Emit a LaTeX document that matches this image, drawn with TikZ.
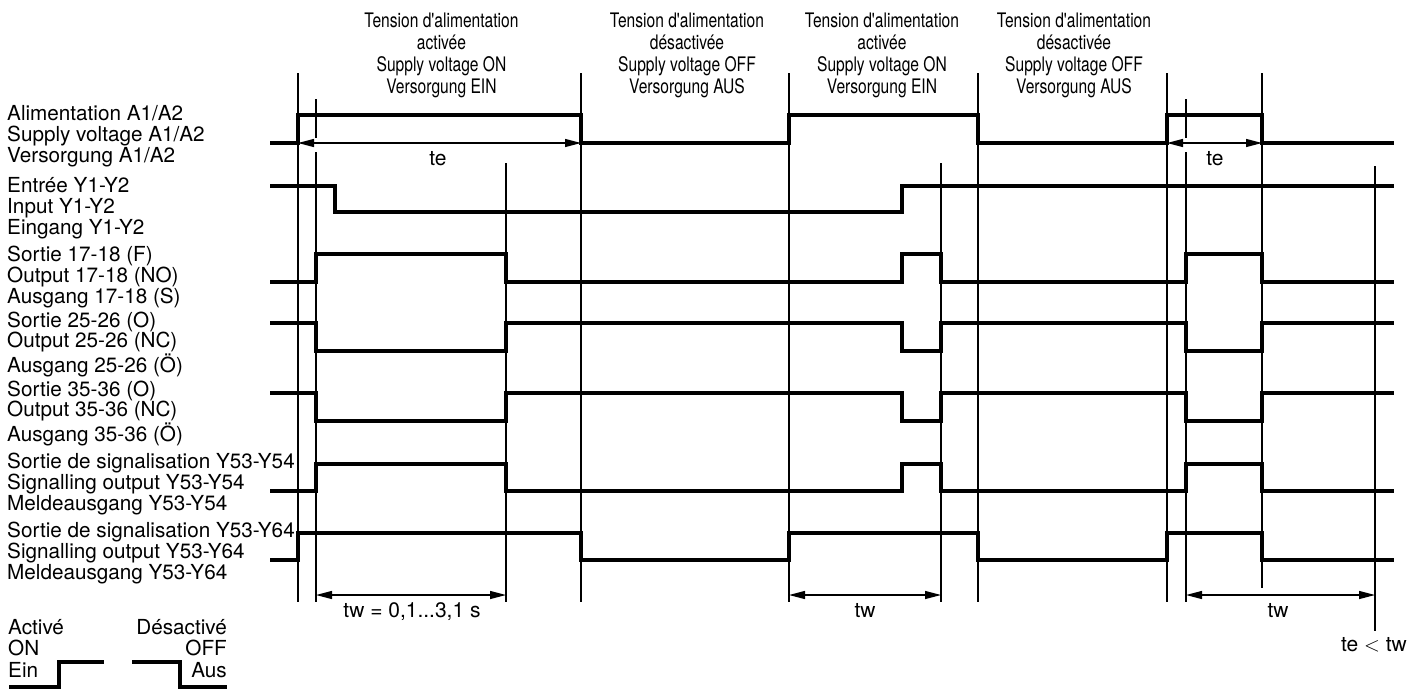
\documentclass[tikz,border=0pt]{standalone}
\usepackage{fontspec}
\setmainfont{TeX Gyre Heros}
\newfontfamily\narrowfont[FakeStretch=0.78]{TeX Gyre Heros}
\usetikzlibrary{arrows.meta,positioning}
\tikzset{
  sig/.style={line width=4pt, line join=miter},
  guide/.style={line width=2pt},
  dim/.style={{Triangle[length=16pt,width=8pt]}-{Triangle[length=16pt,width=8pt]}, line width=1.3pt},
  lbl/.style={font=\fontsize{20.7}{20.8}\selectfont, align=left, inner sep=0pt, anchor=base west},
  head/.style={font=\narrowfont\fontsize{20}{22}\selectfont, align=center, inner sep=0pt, anchor=base},
  dimlbl/.style={font=\fontsize{21}{22}\selectfont, inner sep=0pt, anchor=base}
}

\begin{document}
\begin{tikzpicture}[x=1pt, y=-1pt]
  \useasboundingbox (0,0) rectangle (1423,688);
  % headers (base = last line)
  \node[head] (h1) at (441.5,93) {Tension d'alimentation\\activée\\Supply voltage ON\\Versorgung EIN};
  \node[head] (h2) at (687,93) {Tension d'alimentation\\désactivée\\Supply voltage OFF\\Versorgung AUS};
  \node[head] (h3) at (882,93) {Tension d'alimentation\\activée\\Supply voltage ON\\Versorgung EIN};
  \node[head] (h4) at (1074,93) {Tension d'alimentation\\désactivée\\Supply voltage OFF\\Versorgung AUS};
  % signal names
  \node[lbl] (lA) at (7,162) {Alimentation A1/A2\\Supply voltage A1/A2\\Versorgung A1/A2};
  \node[lbl] (lY) at (7,234) {Entrée Y1-Y2\\Input Y1-Y2\\Eingang Y1-Y2};
  \node[lbl] (l17) at (7,303) {Sortie 17-18 (F)\\Output 17-18 (NO)\\Ausgang 17-18 (S)};
  \node[lbl] (l25) at (7,372) {Sortie 25-26 (O)\\Output 25-26 (NC)\\Ausgang 25-26 (Ö)};
  \node[lbl] (l35) at (7,441) {Sortie 35-36 (O)\\Output 35-36 (NC)\\Ausgang 35-36 (Ö)};
  \node[lbl] (l54) at (7,510) {Sortie de signalisation Y53-Y54\\Signalling output Y53-Y54\\Meldeausgang Y53-Y54};
  \node[lbl] (l64) at (7,579) {Sortie de signalisation Y53-Y64\\Signalling output Y53-Y64\\Meldeausgang Y53-Y64};
  % time marks
  \draw[guide] (298,73) -- (298,602);
  \draw[guide] (316,99) -- (316,138) (316,152) -- (316,602);
  \draw[guide] (506,163) -- (506,602);
  \draw[guide] (581,73) -- (581,602);
  \draw[guide] (789,73) -- (789,602);
  \draw[guide] (941,163) -- (941,602);
  \draw[guide] (978,73) -- (978,602);
  \draw[guide] (1167,73) -- (1167,602);
  \draw[guide] (1186,99) -- (1186,138) (1186,152) -- (1186,602);
  \draw[guide] (1262,73) -- (1262,588);
  \draw[guide] (1375,166) -- (1375,631);
  % waveforms
  \draw[sig] (270,143) -- (298,143) -- (298,115) -- (581,115) -- (581,143) -- (789,143) -- (789,115) -- (978,115) -- (978,143) -- (1167,143) -- (1167,115) -- (1262,115) -- (1262,143) -- (1394,143);
  \draw[sig] (270,186) -- (335,186) -- (335,212) -- (902,212) -- (902,186) -- (1394,186);
  \draw[sig] (270,282) -- (316,282) -- (316,254) -- (506,254) -- (506,282) -- (902,282) -- (902,254) -- (941,254) -- (941,282) -- (1186,282) -- (1186,254) -- (1262,254) -- (1262,282) -- (1394,282);
  \draw[sig] (270,323) -- (316,323) -- (316,351) -- (506,351) -- (506,323) -- (902,323) -- (902,351) -- (941,351) -- (941,323) -- (1186,323) -- (1186,351) -- (1262,351) -- (1262,323) -- (1394,323);
  \draw[sig] (270,393) -- (316,393) -- (316,421) -- (506,421) -- (506,393) -- (902,393) -- (902,421) -- (941,421) -- (941,393) -- (1186,393) -- (1186,421) -- (1262,421) -- (1262,393) -- (1394,393);
  \draw[sig] (270,491) -- (316,491) -- (316,464) -- (506,464) -- (506,491) -- (902,491) -- (902,464) -- (941,464) -- (941,491) -- (1186,491) -- (1186,464) -- (1262,464) -- (1262,491) -- (1394,491);
  \draw[sig] (270,560) -- (298,560) -- (298,533) -- (581,533) -- (581,560) -- (789,560) -- (789,533) -- (978,533) -- (978,560) -- (1167,560) -- (1167,533) -- (1262,533) -- (1262,560) -- (1394,560);
  % durations
  \coordinate (te1a) at (298,143);
  \coordinate (te1b) at (581,143);
  \coordinate (te2a) at (1167,143);
  \coordinate (te2b) at (1262,143);
  \coordinate (tw1a) at (316,595);
  \coordinate (tw1b) at (506,595);
  \coordinate (tw2a) at (789,595);
  \coordinate (tw2b) at (941,595);
  \coordinate (tw3a) at (1186,595);
  \coordinate (tw3b) at (1375,595);
  \draw[dim] (te1a) -- (te1b);
  \draw[dim] (te2a) -- (te2b);
  \draw[dim] (tw1a) -- (tw1b);
  \draw[dim] (tw2a) -- (tw2b);
  \draw[dim] (tw3a) -- (tw3b);
  \node[dimlbl] (te1) at (438,165) {te};
  \node[dimlbl] (te2) at (1215,165) {te};
  \node[dimlbl] (tw1) at (412,617) {tw = 0,1...3,1 s};
  \node[dimlbl] (tw2) at (865,617) {tw};
  \node[dimlbl] (tw3) at (1278,617) {tw};
  \node[dimlbl] (tetw) at (1374,651) {te $<$ tw};
  % legend
  \node[lbl, font=\fontsize{20.7}{21.5}\selectfont] (kon) at (8,677) {Activé\\ON\\Ein};
  \node[lbl, font=\fontsize{20.7}{21.5}\selectfont, align=right, anchor=base east] (koff) at (227,677) {Désactivé\\OFF\\Aus};
  \draw[sig] (9,687) -- (59,687) -- (59,662) -- (104,662);
  \draw[sig] (132,662) -- (180,662) -- (180,687) -- (227,687);
\end{tikzpicture}
\end{document}
